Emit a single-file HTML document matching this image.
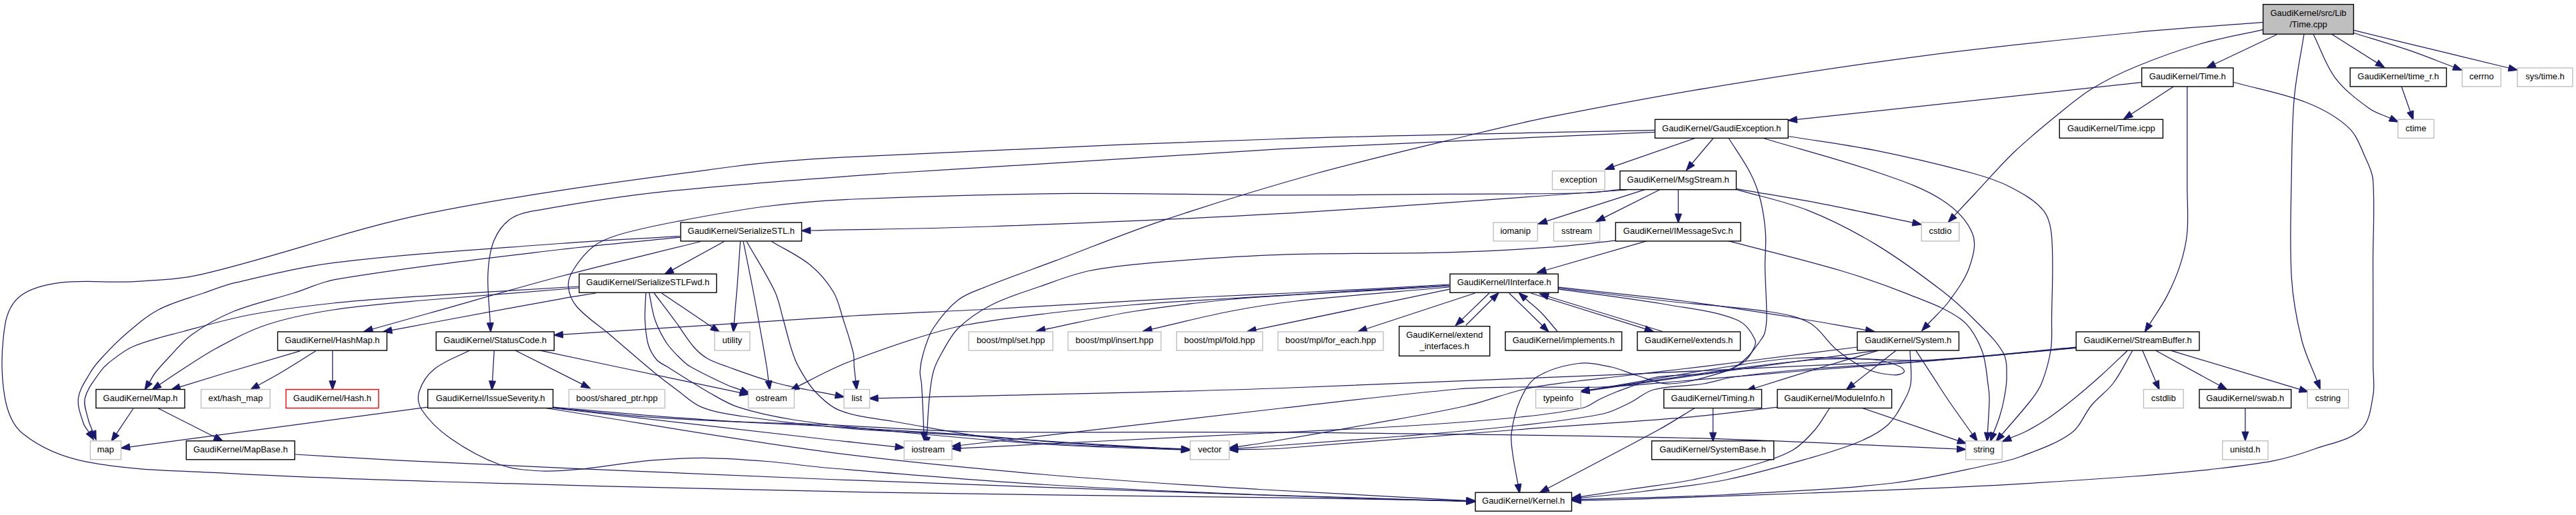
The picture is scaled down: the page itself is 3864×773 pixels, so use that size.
<!DOCTYPE html>
<html><head><meta charset="utf-8"><title>Time.cpp include graph</title>
<style>html,body{margin:0;padding:0;background:#fff;overflow:hidden}svg{display:block}
text{font-family:"Liberation Sans",sans-serif;font-size:13px;fill:#000;text-anchor:middle}
.e path{fill:none;stroke:#191970;stroke-width:1.25}.e polygon{fill:#191970;stroke:#191970;stroke-width:1}
.k{fill:#fff;stroke:#000;stroke-width:1.4}.g{fill:#fff;stroke:#bfbfbf;stroke-width:1.4}.r{fill:#fff;stroke:#ff0000;stroke-width:1.4}.root{fill:#bfbfbf;stroke:#000;stroke-width:1.4}
</style></head><body>
<svg width="3864" height="773" viewBox="0 0 3864 773">
<rect x="0" y="0" width="3864" height="773" fill="#fff"/>
<g class="e">
<path d="M3415.0,52.0 L3322.1,96.0"/><polygon points="3309.4,102.0 3319.9,91.5 3324.2,100.5"/>
<path d="M3395.4,33.3 C3330.3,38.5 3265.0,42.6 3200.0,49.0 C3095.9,59.2 2991.9,69.8 2888.2,83.3 C2778.5,97.6 2669.2,114.4 2560.0,132.3 C2481.1,145.2 2402.4,160.2 2324.0,175.7 C2285.9,183.3 2248.1,192.3 2210.3,201.5 C2131.9,220.4 2053.3,238.5 1975.5,260.0 C1898.0,281.6 1820.9,305.2 1744.6,330.8 C1690.0,349.0 1636.8,371.2 1583.0,391.4 C1548.6,404.3 1514.0,416.3 1480.0,430.0 C1465.5,435.9 1449.8,440.4 1437.5,450.0 C1422.6,461.6 1410.4,476.7 1400.0,492.5 C1392.6,503.8 1388.9,517.1 1385.0,530.0 C1382.2,539.1 1380.5,548.5 1380.0,558.0 C1379.7,564.3 1382.0,570.4 1382.4,576.7 C1383.9,600.5 1384.7,624.3 1385.8,648.2"/><polygon points="1386.5,662.1 1380.8,648.4 1390.8,647.9"/>
<path d="M3395.4,44.4 C3363.6,51.6 3331.3,56.9 3300.0,66.0 C3267.4,75.5 3235.4,87.0 3204.0,100.0 C3181.6,109.2 3159.7,119.9 3139.0,132.5 C3121.2,143.3 3105.2,156.9 3089.0,170.0 C3066.0,188.7 3043.0,207.5 3021.5,228.0 C3000.9,247.6 2982.5,269.3 2963.0,290.0 C2952.5,301.2 2942.0,312.4 2931.5,323.6"/><polygon points="2922.0,333.9 2927.9,320.2 2935.2,327.1"/>
<path d="M3456.0,51.5 C3451.1,83.1 3444.2,114.5 3441.4,146.4 C3438.0,184.2 3437.9,222.2 3437.3,260.0 C3436.5,312.2 3434.2,364.5 3437.3,416.6 C3439.2,448.1 3444.9,479.4 3452.5,510.0 C3457.7,531.3 3467.8,551.1 3475.5,571.6"/><polygon points="3480.4,584.7 3470.8,573.3 3480.1,569.8"/>
<path d="M3470.1,51.5 C3481.1,73.4 3488.3,97.6 3503.0,117.1 C3516.6,135.3 3535.2,149.2 3553.5,162.6 C3562.9,169.5 3574.7,172.5 3585.3,177.4"/><polygon points="3598.0,183.3 3583.2,181.9 3587.4,172.9"/>
<path d="M3497.9,51.5 L3565.4,94.1"/><polygon points="3577.2,101.6 3562.7,98.4 3568.0,89.9"/>
<path d="M3530.7,49.5 C3558.5,58.2 3586.5,66.3 3614.1,75.7 C3636.4,83.4 3658.2,92.3 3680.3,100.5"/><polygon points="3693.4,105.4 3678.6,105.2 3682.1,95.9"/>
<path d="M3530.7,45.4 C3572.0,55.5 3613.2,65.7 3654.5,75.7 C3690.7,84.6 3727.0,93.3 3763.2,102.0"/><polygon points="3776.8,105.3 3762.0,106.9 3764.4,97.2"/>
<path d="M3212.6,123.7 L2695.4,179.4"/><polygon points="2681.5,180.9 2694.9,174.4 2696.0,184.4"/>
<path d="M3260.6,129.8 L3196.9,171.3"/><polygon points="3185.1,178.9 3194.1,167.1 3199.6,175.5"/>
<path d="M3280.8,129.8 C3280.8,153.8 3280.8,177.9 3280.8,202.0 C3280.8,228.1 3280.8,254.2 3280.8,280.3 C3280.8,303.0 3282.8,325.8 3280.8,348.5 C3279.4,364.7 3275.6,380.9 3270.7,396.4 C3265.5,413.0 3258.4,429.0 3250.5,444.4 C3242.9,459.1 3233.1,472.5 3224.4,486.5"/><polygon points="3217.0,498.4 3220.2,483.9 3228.7,489.2"/>
<path d="M3350.5,123.5 C3387.0,133.7 3424.8,140.0 3460.0,154.0 C3482.8,163.0 3505.3,175.0 3523.2,191.9 C3535.8,203.8 3541.1,221.6 3548.4,237.3 C3553.3,247.8 3558.7,258.7 3559.5,270.2 C3562.4,310.5 3559.5,351.0 3559.5,391.4 C3559.5,420.9 3559.6,450.5 3559.6,480.0 C3559.6,502.8 3559.6,525.5 3559.6,548.3 C3559.6,563.5 3562.4,578.9 3559.6,593.8 C3556.3,611.6 3554.7,632.7 3541.4,645.0 C3523.3,661.7 3496.3,665.2 3473.1,673.5 C3452.6,680.8 3431.8,687.5 3410.5,691.7 C3378.6,697.9 3346.1,701.2 3313.8,704.8 C3275.9,708.9 3238.0,712.2 3200.0,715.0 C3128.0,720.2 3056.1,725.0 2984.0,728.8 C2894.4,733.4 2804.7,736.5 2715.0,740.0 C2631.7,743.2 2548.3,746.0 2465.0,748.8 C2433.8,749.8 2402.5,750.4 2371.3,751.2"/><polygon points="2357.3,751.5 2371.2,746.2 2371.4,756.2"/>
<path d="M3602.4,130.2 L3615.4,167.5"/><polygon points="3620.0,180.7 3610.7,169.2 3620.1,165.9"/>
<path d="M2543.6,207.0 L2420.4,249.8"/><polygon points="2407.2,254.4 2418.7,245.1 2422.0,254.5"/>
<path d="M2570.4,207.0 L2538.2,245.2"/><polygon points="2529.2,255.9 2534.4,242.0 2542.0,248.4"/>
<path d="M2482.5,198.4 C2295.0,206.9 2107.4,213.6 1920.0,223.7 C1725.1,234.2 1530.3,246.6 1335.5,260.0 C1221.4,268.0 1107.2,275.9 993.5,287.9 C930.8,294.5 868.6,304.6 806.6,315.6 C792.7,318.1 777.8,320.2 766.2,328.3 C754.9,336.1 746.2,348.3 741.0,361.1 C734.5,376.9 732.7,394.5 731.9,411.6 C730.8,435.9 734.2,460.3 735.3,484.6"/><polygon points="736.0,498.6 730.3,484.9 740.3,484.4"/>
<path d="M2482.5,195.4 C2295.0,199.8 2107.5,202.3 1920.0,208.5 C1706.6,215.6 1493.2,224.5 1280.0,235.3 C1219.7,238.4 1159.3,242.0 1099.5,250.0 C945.9,270.5 791.9,289.9 640.0,320.7 C526.0,343.8 416.3,385.2 303.0,411.6 C270.0,419.3 235.8,420.7 202.0,422.7 C165.0,424.9 127.6,419.6 90.9,424.2 C69.8,426.9 47.3,431.5 30.3,444.4 C17.4,454.2 10.1,471.3 7.6,487.3 C2.1,522.4 1.1,558.8 6.8,593.8 C10.2,614.6 17.7,637.5 34.1,650.7 C61.6,672.8 96.3,686.6 130.9,693.4 C200.0,706.8 271.1,706.5 341.4,710.4 C448.8,716.4 556.4,719.8 664.0,723.0 C877.3,729.3 1090.7,734.8 1304.0,738.9 C1517.3,743.0 1730.7,744.4 1944.0,747.4 C2029.4,748.7 2114.8,750.3 2200.2,751.8"/><polygon points="2214.2,752.0 2200.1,756.8 2200.3,746.8"/>
<path d="M2643.3,207.0 C2702.2,224.7 2761.9,239.9 2820.0,260.0 C2852.1,271.1 2885.1,281.9 2913.5,300.5 C2932.4,312.9 2950.5,330.0 2958.9,351.0 C2965.2,366.7 2959.4,385.5 2953.9,401.5 C2947.4,420.0 2935.1,436.1 2923.6,452.0 C2914.4,464.6 2902.4,475.0 2891.8,486.5"/><polygon points="2882.4,496.8 2888.2,483.1 2895.5,489.9"/>
<path d="M2682.2,204.5 C2725.6,211.6 2769.3,217.1 2812.5,225.7 C2861.6,235.6 2910.5,247.0 2958.9,260.0 C2977.9,265.2 2997.0,271.1 3014.5,280.3 C3032.7,289.8 3051.8,299.9 3064.9,315.6 C3074.0,326.5 3076.5,342.0 3077.6,356.0 C3080.7,397.2 3077.8,438.7 3077.5,480.0 C3077.4,495.0 3078.6,510.2 3076.2,525.0 C3073.6,542.1 3068.8,558.9 3062.5,575.0 C3058.9,584.1 3053.0,592.2 3047.0,600.0 C3033.0,618.0 3017.5,634.8 3002.8,652.2"/><polygon points="2993.7,662.9 2999.0,649.0 3006.6,655.5"/>
<path d="M2592.8,207.0 C2603.8,224.7 2616.2,241.6 2625.6,260.0 C2632.2,272.9 2637.3,286.5 2640.8,300.5 C2644.9,317.0 2647.2,334.0 2648.4,351.0 C2649.5,367.3 2647.3,383.7 2647.5,400.0 C2647.8,425.0 2650.1,450.0 2650.0,475.0 C2650.0,483.4 2649.2,491.9 2647.0,500.0 C2645.8,504.5 2642.7,508.2 2640.0,512.0 C2634.0,520.3 2628.3,528.9 2621.0,536.0 C2614.2,542.7 2606.8,549.4 2598.0,553.0 C2586.0,557.9 2572.8,559.3 2560.0,561.0 C2547.4,562.7 2534.6,562.1 2522.0,563.0 C2508.0,564.1 2493.8,564.1 2480.0,567.0 C2471.2,568.8 2463.4,573.8 2455.0,577.0 C2445.0,580.8 2434.9,584.0 2425.0,588.0 C2416.5,591.4 2408.2,595.1 2400.0,599.0 C2391.5,603.1 2384.2,609.9 2375.0,612.0 C2343.8,619.0 2311.8,622.8 2280.0,626.0 C2220.1,632.1 2160.1,636.2 2100.0,640.0 C2033.4,644.2 1966.7,646.7 1900.0,650.0 C1818.3,654.0 1736.7,657.9 1655.0,662.0 C1583.6,665.6 1512.2,669.2 1440.8,672.9"/><polygon points="1426.8,673.6 1440.5,667.9 1441.0,677.8"/>
<path d="M2467.9,284.3 L2320.0,331.9"/><polygon points="2306.7,336.2 2318.5,327.2 2321.5,336.7"/>
<path d="M2490.6,284.3 L2406.1,326.6"/><polygon points="2393.6,332.8 2403.9,322.1 2408.3,331.1"/>
<path d="M2517.4,284.3 L2517.4,321.0"/><polygon points="2517.4,335.0 2512.4,321.0 2522.4,321.0"/>
<path d="M2440.0,285.0 C2266.7,296.9 2093.5,310.7 1920.0,320.7 C1774.8,329.0 1629.4,334.8 1484.0,340.0 C1394.6,343.2 1305.2,344.0 1215.8,346.0"/><polygon points="1201.8,346.3 1215.7,341.0 1215.9,351.0"/>
<path d="M2431.0,284.3 C2414.0,286.0 2397.1,289.0 2380.0,289.5 C2310.8,291.4 2241.7,290.9 2172.5,291.4 C2088.3,292.0 2004.2,293.1 1920.0,292.9 C1816.1,292.7 1712.1,289.4 1608.2,290.4 C1498.8,291.4 1389.3,294.3 1280.0,299.0 C1235.7,300.9 1191.5,304.4 1147.5,310.0 C1103.1,315.6 1059.0,324.0 1015.0,332.5 C985.6,338.2 956.2,343.9 927.5,352.5 C914.3,356.5 900.9,361.5 890.0,370.0 C877.9,379.4 868.1,392.0 860.0,405.0 C855.4,412.4 851.7,421.3 852.5,430.0 C853.5,440.8 857.9,451.8 865.0,460.0 C879.3,476.6 898.4,488.3 915.0,502.5 C936.7,521.0 958.0,539.9 980.0,558.0 C991.4,567.4 1003.1,576.3 1015.0,585.0 C1027.3,594.0 1038.3,605.6 1052.5,611.2 C1072.3,619.2 1093.9,621.9 1115.0,625.0 C1164.8,632.3 1214.9,638.1 1265.0,642.5 C1319.9,647.3 1375.0,648.9 1430.0,652.5 C1496.7,656.8 1563.3,662.0 1630.0,666.2 C1677.4,669.3 1724.8,671.6 1772.2,674.3"/><polygon points="1786.2,675.1 1771.9,679.3 1772.5,669.3"/>
<path d="M2604.4,283.3 C2648.5,291.1 2692.8,298.1 2736.7,306.6 C2781.0,315.1 2825.0,325.0 2869.1,334.2"/><polygon points="2882.8,337.1 2868.1,339.1 2870.1,329.3"/>
<path d="M2604.4,284.3 C2640.1,294.8 2676.9,302.0 2711.5,315.6 C2746.5,329.4 2780.2,346.8 2812.5,366.1 C2847.7,387.3 2880.9,411.8 2913.5,436.8 C2931.4,450.6 2948.1,466.1 2964.0,482.3 C2978.7,497.2 2995.0,511.5 3005.0,530.0 C3011.0,541.1 3009.9,554.9 3010.0,567.5 C3010.1,578.4 3007.7,589.3 3005.8,600.0 C3004.2,608.5 3002.0,616.8 2999.5,625.0 C2996.9,633.5 2993.3,641.7 2990.2,650.0"/><polygon points="2985.3,663.1 2985.5,648.3 2994.9,651.7"/>
<path d="M2470.4,361.6 L2318.6,405.5"/><polygon points="2305.1,409.4 2317.2,400.7 2320.0,410.3"/>
<path d="M2590.3,361.1 C2647.5,376.2 2705.2,389.7 2762.0,406.5 C2796.2,416.7 2829.9,428.4 2863.0,441.9 C2890.2,453.0 2919.1,462.2 2942.5,480.0 C2956.9,490.9 2965.8,508.3 2972.5,525.0 C2979.4,542.3 2979.7,561.6 2982.5,580.0 C2983.5,586.6 2984.1,593.3 2984.0,600.0 C2983.7,616.4 2982.3,632.8 2981.4,649.2"/><polygon points="2980.7,663.2 2976.4,649.0 2986.4,649.5"/>
<path d="M2423.4,361.1 C2390.3,364.5 2357.2,368.8 2324.0,371.2 C2273.5,374.7 2223.0,377.4 2172.5,378.8 C2088.3,381.1 2004.1,379.4 1920.0,382.3 C1858.1,384.4 1796.2,388.7 1734.5,393.9 C1700.6,396.8 1666.7,399.7 1633.5,406.5 C1608.3,411.7 1584.3,421.5 1560.0,430.0 C1535.6,438.5 1510.5,445.8 1487.5,457.5 C1469.4,466.7 1452.1,478.4 1437.5,492.5 C1426.7,502.9 1420.0,517.0 1412.5,530.0 C1407.4,538.9 1402.6,548.1 1400.0,558.0 C1396.3,571.7 1395.1,585.9 1393.8,600.0 C1391.9,618.6 1391.4,637.3 1390.3,656.0"/><polygon points="1389.4,669.9 1385.3,655.7 1395.3,656.3"/>
<path d="M1020.5,354.5 C960.3,358.2 900.1,360.9 840.0,365.5 C728.2,374.0 616.2,380.5 504.9,393.9 C453.8,400.1 403.6,412.6 353.5,424.2 C336.9,428.0 321.0,434.4 305.0,440.0 C282.4,448.0 258.7,453.7 237.5,465.0 C219.1,474.8 203.3,488.9 187.5,502.5 C174.1,514.0 161.9,526.9 150.0,540.0 C144.4,546.2 139.1,552.7 135.0,560.0 C128.2,572.0 119.3,583.8 117.5,597.5 C115.8,610.1 121.2,622.8 125.0,635.0 C126.6,640.1 130.5,644.1 133.3,648.6"/><polygon points="140.6,660.5 129.1,651.2 137.6,646.0"/>
<path d="M1020.5,356.2 C960.3,362.3 900.0,367.2 840.0,374.5 C728.2,388.1 616.1,401.0 504.9,419.2 C482.5,422.8 461.7,433.2 440.0,440.0 C410.1,449.3 379.0,455.6 350.0,467.5 C327.9,476.6 306.8,488.5 287.5,502.5 C273.2,512.9 262.2,527.2 250.0,540.0 C243.9,546.4 237.9,553.0 232.5,560.0 C229.3,564.2 227.0,569.1 224.2,573.6"/><polygon points="216.9,585.5 219.9,571.0 228.4,576.2"/>
<path d="M1051.2,362.5 C980.8,380.0 910.2,396.5 840.0,415.0 C774.4,432.3 709.3,451.7 644.0,470.0 C615.5,478.0 587.0,486.0 558.6,494.0"/><polygon points="545.1,497.8 557.2,489.2 559.9,498.8"/>
<path d="M1086.2,362.5 L1008.7,405.1"/><polygon points="996.4,411.8 1006.3,400.7 1011.1,409.5"/>
<path d="M1110.5,362.5 C1108.9,385.0 1107.5,407.5 1105.8,430.0 C1104.3,448.4 1102.6,466.8 1101.1,485.2"/><polygon points="1099.9,499.2 1096.1,484.8 1106.1,485.7"/>
<path d="M1115.0,362.5 C1120.0,387.7 1125.2,412.8 1130.0,438.0 C1133.5,456.1 1136.8,474.3 1140.0,492.5 C1143.4,511.7 1146.9,530.8 1150.0,550.0 C1151.2,557.2 1151.9,564.5 1152.8,571.8"/><polygon points="1154.7,585.7 1147.9,572.5 1157.8,571.2"/>
<path d="M1120.0,362.5 C1134.2,387.7 1150.3,411.8 1162.5,438.0 C1168.7,451.2 1171.0,466.0 1175.0,480.0 C1179.3,495.0 1182.7,510.2 1187.5,525.0 C1190.2,533.5 1193.1,542.2 1197.5,550.0 C1204.8,563.1 1212.2,576.6 1222.5,587.5 C1233.3,599.0 1245.3,610.6 1260.0,616.2 C1285.4,626.0 1313.2,627.9 1340.0,632.5 C1403.2,643.3 1466.2,656.4 1530.0,662.5 C1610.5,670.2 1691.5,670.1 1772.2,673.9"/><polygon points="1786.2,674.6 1772.0,678.9 1772.4,668.9"/>
<path d="M1157.5,362.5 C1176.7,374.2 1197.6,383.3 1215.0,397.5 C1228.8,408.8 1240.8,422.7 1250.0,438.0 C1257.7,450.7 1260.4,465.9 1265.0,480.0 C1270.4,496.5 1276.1,513.1 1280.0,530.0 C1281.5,536.5 1280.7,543.3 1281.2,550.0 C1281.9,557.3 1282.8,564.5 1283.6,571.8"/><polygon points="1285.1,585.7 1278.6,572.3 1288.6,571.2"/>
<path d="M868.2,430.0 C793.5,434.6 718.7,438.7 644.0,443.8 C596.0,447.0 547.9,449.9 500.0,455.0 C458.2,459.5 416.3,464.7 375.0,472.5 C341.2,478.9 308.2,488.5 275.0,497.5 C249.8,504.3 224.0,509.8 200.0,520.0 C186.2,525.8 174.3,535.8 162.5,545.0 C157.2,549.2 152.5,554.4 148.8,560.0 C140.8,572.0 130.7,583.5 127.5,597.5 C125.0,608.2 130.0,619.3 132.5,630.0 C133.9,636.1 137.0,641.7 139.2,647.5"/><polygon points="144.2,660.6 134.5,649.3 143.9,645.8"/>
<path d="M868.2,432.0 C793.5,438.0 718.7,443.3 644.0,450.0 C595.9,454.3 547.7,457.7 500.0,465.0 C466.2,470.2 432.5,476.8 400.0,487.5 C373.8,496.1 349.3,509.4 325.0,522.5 C304.2,533.7 284.9,547.3 265.0,560.0 C256.3,565.6 247.9,571.6 239.4,577.3"/><polygon points="227.8,585.2 236.6,573.2 242.2,581.5"/>
<path d="M893.8,440.0 C875.8,442.9 857.9,445.5 840.0,448.8 C774.6,460.5 709.3,472.9 644.0,485.0 C625.2,488.5 606.4,492.1 587.6,495.6"/><polygon points="573.8,498.2 586.7,490.7 588.5,500.5"/>
<path d="M968.8,440.0 C968.3,453.3 966.9,466.7 967.5,480.0 C968.1,492.6 969.0,505.4 972.5,517.5 C974.9,525.7 979.5,533.5 985.0,540.0 C988.9,544.6 994.9,546.8 1000.0,550.0 C1021.6,563.5 1042.9,577.4 1065.0,590.0 C1078.8,597.8 1092.4,606.4 1107.5,611.2 C1134.4,619.8 1162.1,625.7 1190.0,630.0 C1239.7,637.8 1289.9,642.7 1340.0,647.5 C1419.9,655.2 1499.9,662.4 1580.0,667.5 C1644.0,671.6 1708.1,672.5 1772.2,675.0"/><polygon points="1786.2,675.5 1772.0,680.0 1772.4,670.0"/>
<path d="M973.8,440.0 C976.7,453.3 978.0,467.1 982.5,480.0 C986.8,492.3 992.9,504.1 1000.0,515.0 C1005.5,523.4 1012.9,530.4 1020.0,537.5 C1024.6,542.1 1029.3,546.8 1035.0,550.0 C1052.8,560.2 1071.4,568.9 1090.0,577.5 C1097.0,580.7 1104.5,582.9 1111.7,585.6"/><polygon points="1124.9,590.4 1110.0,590.2 1113.5,580.9"/>
<path d="M981.2,440.0 C992.5,455.0 1003.9,469.9 1015.0,485.0 C1023.5,496.6 1030.7,509.1 1040.0,520.0 C1045.8,526.7 1052.4,532.9 1060.0,537.5 C1069.3,543.1 1079.8,546.4 1090.0,550.0 C1114.8,558.9 1139.5,568.3 1165.0,575.0 C1194.0,582.7 1223.8,587.1 1253.2,593.2"/><polygon points="1266.9,596.0 1252.2,598.1 1254.2,588.3"/>
<path d="M992.5,440.0 L1068.1,490.9"/><polygon points="1079.7,498.7 1065.3,495.0 1070.9,486.7"/>
<path d="M450.0,526.8 C412.5,537.8 375.0,548.8 337.5,560.0 C314.9,566.8 292.3,573.8 269.7,580.8"/><polygon points="256.4,584.9 268.3,576.0 271.2,585.5"/>
<path d="M473.8,526.8 C455.8,537.8 438.1,549.2 420.0,560.0 C409.3,566.4 398.3,572.2 387.4,578.2"/><polygon points="375.2,585.1 385.0,573.9 389.9,582.6"/>
<path d="M498.8,526.8 L498.8,571.7"/><polygon points="498.8,585.7 493.8,571.7 503.8,571.7"/>
<path d="M200.0,613.0 L174.6,651.1"/><polygon points="166.8,662.7 170.4,648.3 178.8,653.9"/>
<path d="M237.5,613.0 L322.3,656.0"/><polygon points="334.8,662.3 320.1,660.4 324.6,651.5"/>
<path d="M442.5,682.0 C495.0,685.1 547.5,688.6 600.0,691.2 C691.6,695.9 783.3,699.7 875.0,703.8 C998.0,709.1 1121.0,714.7 1244.0,719.5 C1458.6,727.8 1673.3,735.6 1888.0,743.0 C1991.9,746.6 2095.8,749.4 2199.7,752.6"/><polygon points="2213.7,753.0 2199.6,757.6 2199.9,747.6"/>
<path d="M741.3,525.5 L738.6,571.9"/><polygon points="737.8,585.9 733.6,571.6 743.6,572.2"/>
<path d="M772.0,525.5 L873.2,576.6"/><polygon points="885.7,583.0 871.0,581.1 875.5,572.2"/>
<path d="M807.9,525.5 C846.1,533.7 884.3,541.9 922.5,550.0 C985.0,563.2 1047.5,576.2 1110.0,589.4"/><polygon points="1123.7,592.2 1108.9,594.3 1111.0,584.5"/>
<path d="M705.4,525.5 C687.4,535.0 667.2,541.1 651.4,554.0 C640.8,562.6 632.7,575.0 628.6,588.1 C625.9,596.8 627.5,607.5 632.5,615.0 C643.6,631.7 658.6,646.0 675.0,657.5 C698.2,673.8 723.3,687.9 750.0,697.5 C769.8,704.6 791.5,705.9 812.5,707.0 C833.3,708.0 854.2,705.8 875.0,703.8 C908.4,700.5 941.5,694.2 975.0,691.2 C1004.1,688.7 1033.3,687.3 1062.5,687.5 C1091.7,687.7 1120.9,690.1 1150.0,692.5 C1181.4,695.1 1212.6,699.9 1244.0,702.5 C1352.3,711.5 1460.6,720.8 1569.0,727.5 C1675.2,734.1 1781.6,738.4 1888.0,742.5 C1991.9,746.6 2095.8,748.9 2199.7,752.1"/><polygon points="2213.7,752.5 2199.6,757.1 2199.9,747.1"/>
<path d="M641.2,611.2 L194.7,670.8"/><polygon points="180.8,672.7 194.0,665.9 195.3,675.8"/>
<path d="M830.0,611.2 C878.3,615.4 926.6,619.9 975.0,623.8 C1016.6,627.0 1058.3,630.4 1100.0,632.5 C1148.0,635.0 1196.0,635.4 1244.0,637.5 C1314.4,640.6 1384.6,646.8 1455.0,648.0 C1599.3,650.5 1743.7,647.5 1888.0,648.8 C2102.7,650.6 2317.4,652.3 2532.0,657.5 C2666.6,660.7 2801.0,668.5 2935.5,674.0"/><polygon points="2949.4,674.5 2935.3,679.0 2935.7,669.0"/>
<path d="M828.8,611.8 C877.5,616.6 926.1,622.9 975.0,626.2 C1064.6,632.3 1154.4,635.1 1244.0,640.0 C1306.0,643.4 1368.0,646.9 1430.0,651.2 C1496.7,655.9 1563.3,662.5 1630.0,667.0 C1677.4,670.2 1724.8,672.0 1772.2,674.6"/><polygon points="1786.2,675.3 1772.0,679.6 1772.5,669.6"/>
<path d="M825.0,612.0 C964.7,628.0 1104.3,644.1 1244.0,660.0 C1256.0,661.4 1268.0,662.5 1280.0,663.8 C1301.0,666.0 1322.0,668.3 1343.0,670.6"/><polygon points="1356.9,672.1 1342.5,675.6 1343.6,665.6"/>
<path d="M815.0,612.0 C958.0,634.2 1100.5,659.6 1244.0,678.8 C1352.0,693.1 1460.5,703.1 1569.0,712.5 C1675.2,721.7 1781.6,728.0 1888.0,734.5 C1991.9,740.9 2095.8,745.7 2199.7,751.3"/><polygon points="2213.7,752.1 2199.4,756.3 2200.0,746.3"/>
<path d="M2174.0,427.0 C2097.3,431.2 2020.7,435.6 1944.0,439.5 C1896.0,441.9 1848.0,443.4 1800.0,446.0 C1694.6,451.6 1589.4,458.3 1484.0,464.0 C1416.0,467.7 1348.0,469.9 1280.0,474.0 C1134.7,482.7 989.5,492.8 844.3,502.2"/><polygon points="830.3,503.1 844.0,497.2 844.6,507.2"/>
<path d="M2174.0,428.0 C2097.3,432.7 2020.7,437.4 1944.0,442.0 C1910.7,444.0 1877.3,445.9 1844.0,448.0 C1796.0,451.0 1747.9,453.6 1700.0,457.5 C1658.3,460.9 1616.6,465.0 1575.0,470.0 C1533.2,475.0 1491.4,479.7 1450.0,487.5 C1424.6,492.3 1399.7,499.7 1375.0,507.5 C1341.3,518.1 1308.1,530.1 1275.0,542.5 C1263.0,547.0 1251.5,552.5 1240.0,558.0 C1225.6,564.9 1211.6,572.5 1197.4,579.7"/><polygon points="1184.9,586.0 1195.1,575.2 1199.7,584.1"/>
<path d="M2174.0,429.5 C2097.3,433.8 2020.6,437.9 1944.0,442.5 C1910.6,444.5 1877.2,446.1 1844.0,449.5 C1795.9,454.4 1747.7,459.7 1700.0,467.5 C1655.5,474.7 1611.7,485.5 1567.5,494.4"/><polygon points="1553.8,497.2 1566.5,489.5 1568.5,499.3"/>
<path d="M2174.0,431.0 C2097.3,438.0 2020.5,443.5 1944.0,452.0 C1910.5,455.7 1877.1,461.1 1844.0,467.5 C1804.9,475.1 1766.3,485.3 1727.5,494.1"/><polygon points="1713.8,497.3 1726.4,489.3 1728.6,499.0"/>
<path d="M2174.2,434.2 L1883.8,494.9"/><polygon points="1870.1,497.7 1882.8,490.0 1884.8,499.8"/>
<path d="M2212.5,440.0 L2049.7,493.5"/><polygon points="2036.4,497.9 2048.1,488.8 2051.2,498.3"/>
<path d="M2233.8,440.0 L2193.0,479.4"/><polygon points="2182.9,489.1 2189.5,475.8 2196.4,483.0"/>
<path d="M2198.8,488.2 L2238.4,449.0"/><polygon points="2248.4,439.2 2241.9,452.6 2234.9,445.5"/>
<path d="M2263.8,440.0 L2313.4,488.5"/><polygon points="2323.4,498.3 2309.9,492.1 2316.8,485.0"/>
<path d="M2336.2,497.5 C2328.3,488.3 2321.0,478.7 2312.5,470.0 C2305.0,462.3 2296.4,455.7 2288.3,448.5"/><polygon points="2277.9,439.2 2291.6,444.8 2285.0,452.2"/>
<path d="M2296.2,440.0 L2467.8,493.7"/><polygon points="2481.1,497.9 2466.3,498.4 2469.3,488.9"/>
<path d="M2493.8,497.5 L2322.2,445.0"/><polygon points="2308.9,440.9 2323.7,440.2 2320.8,449.8"/>
<path d="M2337.5,431.2 C2401.7,438.3 2466.0,444.3 2530.0,452.5 C2580.2,458.9 2630.1,467.0 2680.0,475.0 C2719.6,481.3 2759.1,488.6 2798.6,495.3"/><polygon points="2812.4,497.7 2797.8,500.3 2799.5,490.4"/>
<path d="M2337.5,432.5 C2393.3,439.2 2449.1,446.3 2505.0,452.5 C2555.0,458.1 2605.3,460.3 2655.0,468.0 C2675.5,471.2 2696.9,474.7 2715.0,485.0 C2731.4,494.3 2740.4,513.1 2755.0,525.0 C2768.7,536.1 2783.4,546.4 2799.5,553.8 C2811.2,559.1 2824.2,561.4 2837.0,562.5 C2843.3,563.1 2851.2,563.3 2855.8,558.8 C2858.3,556.2 2852.8,551.4 2849.5,550.0 C2837.6,544.9 2824.9,541.0 2812.0,540.0 C2773.1,536.9 2734.0,535.7 2695.0,537.5 C2661.4,539.0 2628.2,544.9 2595.0,550.0 C2524.5,560.9 2454.2,573.6 2383.9,585.4"/><polygon points="2370.1,587.7 2383.0,580.5 2384.7,590.3"/>
<path d="M2337.5,433.8 C2393.3,441.8 2449.4,448.4 2505.0,458.0 C2538.6,463.8 2573.4,467.1 2605.0,480.0 C2617.6,485.1 2626.8,497.7 2632.5,510.0 C2635.2,515.9 2630.5,523.0 2627.5,528.8 C2624.5,534.5 2620.4,540.1 2615.0,543.8 C2605.5,550.3 2594.8,555.5 2583.8,558.8 C2558.0,566.3 2531.9,575.0 2505.0,576.0 C2487.8,576.6 2471.5,568.2 2455.0,563.5 C2442.3,559.9 2430.4,553.7 2417.5,551.0 C2401.1,547.6 2384.1,543.3 2367.5,545.5 C2345.8,548.4 2323.5,554.3 2305.0,566.0 C2292.9,573.7 2285.9,587.9 2280.0,601.0 C2273.0,616.6 2269.3,633.7 2267.1,650.7 C2265.7,661.2 2267.9,672.0 2269.2,682.5 C2271.2,697.4 2274.4,712.1 2277.0,726.9"/><polygon points="2279.5,740.7 2272.1,727.8 2282.0,726.0"/>
<path d="M2786.0,521.0 C2730.7,528.0 2675.3,535.1 2620.0,542.0 C2587.3,546.1 2554.7,550.1 2522.0,554.0 C2493.7,557.4 2465.3,560.7 2437.0,564.0 C2408.0,567.4 2378.9,570.1 2350.0,574.0 C2328.9,576.8 2307.7,579.2 2287.0,584.0 C2257.6,590.9 2229.4,602.4 2200.0,609.0 C2150.4,620.2 2100.1,628.3 2050.0,637.5 C2000.1,646.7 1950.0,655.4 1900.0,664.0 C1885.6,666.5 1871.1,668.4 1856.7,670.6"/><polygon points="1842.8,672.7 1855.9,665.6 1857.4,675.5"/>
<path d="M2815.0,526.2 C2741.7,536.2 2668.3,546.1 2595.0,556.2 C2524.6,566.0 2454.3,576.2 2383.9,586.2"/><polygon points="2370.1,588.2 2383.2,581.3 2384.6,591.2"/>
<path d="M2817.5,526.2 C2793.3,533.3 2769.1,540.2 2745.0,547.5 C2707.3,558.9 2669.8,570.8 2632.2,582.5"/><polygon points="2618.9,586.6 2630.7,577.7 2633.7,587.2"/>
<path d="M2843.8,526.2 L2780.0,576.6"/><polygon points="2769.1,585.2 2776.9,572.6 2783.1,580.5"/>
<path d="M2865.0,526.2 C2865.4,542.5 2868.0,558.8 2866.2,575.0 C2865.3,583.8 2861.3,592.2 2857.0,600.0 C2849.8,613.2 2843.0,627.3 2832.0,637.5 C2820.1,648.6 2805.0,656.1 2790.0,662.5 C2765.8,672.9 2740.3,680.2 2715.0,687.5 C2673.6,699.4 2632.2,711.6 2590.0,720.0 C2548.7,728.3 2506.7,732.3 2465.0,737.5 C2433.8,741.4 2402.5,744.1 2371.2,747.4"/><polygon points="2357.3,748.9 2370.7,742.5 2371.8,752.4"/>
<path d="M2873.8,526.2 C2882.5,539.6 2891.3,552.9 2900.0,566.2 C2907.4,577.5 2914.4,588.9 2922.0,600.0 C2933.9,617.4 2946.2,634.4 2958.4,651.5"/><polygon points="2966.4,663.0 2954.3,654.4 2962.5,648.7"/>
<path d="M2569.5,612.5 L2569.5,649.2"/><polygon points="2569.5,663.2 2564.5,649.2 2574.5,649.2"/>
<path d="M2542.0,612.5 C2524.0,623.3 2506.4,634.9 2488.0,645.0 C2433.0,675.0 2377.2,703.5 2321.8,732.8"/><polygon points="2309.4,739.3 2319.5,728.4 2324.2,737.2"/>
<path d="M2666.2,611.2 C2621.5,616.2 2576.9,622.4 2532.0,626.2 C2446.4,633.6 2360.6,638.4 2275.0,645.0 C2158.0,654.0 2041.1,664.7 1924.0,673.0 C1901.6,674.6 1879.0,674.1 1856.5,674.7"/><polygon points="1842.6,675.0 1856.4,669.7 1856.7,679.7"/>
<path d="M2792.0,612.0 L2936.9,661.4"/><polygon points="2950.1,665.9 2935.3,666.1 2938.5,656.6"/>
<path d="M2744.5,612.5 C2737.2,623.3 2731.1,635.1 2722.5,645.0 C2712.8,656.1 2702.6,667.4 2690.0,675.0 C2674.6,684.3 2657.2,689.8 2640.0,695.0 C2607.1,704.9 2573.7,713.3 2540.0,720.0 C2506.9,726.6 2473.3,730.0 2440.0,735.0 C2417.0,738.5 2394.1,742.0 2371.2,745.6"/><polygon points="2357.3,747.7 2370.4,740.6 2371.9,750.5"/>
<path d="M3113.8,521.2 C3042.5,527.5 2971.4,536.3 2900.0,540.0 C2574.8,556.7 2249.4,570.6 1924.0,582.5 C1721.8,589.9 1519.4,592.6 1317.0,597.7"/><polygon points="1303.1,598.0 1316.9,592.7 1317.2,602.7"/>
<path d="M3113.8,521.5 C3042.5,527.8 2971.5,537.1 2900.0,540.5 C2840.1,543.3 2779.8,534.8 2720.0,540.0 C2607.4,549.8 2496.0,570.2 2383.9,585.3"/><polygon points="2370.1,587.2 2383.3,580.3 2384.6,590.2"/>
<path d="M3114.0,522.0 C3042.7,528.3 2971.4,535.3 2900.0,541.0 C2833.4,546.3 2766.6,549.5 2700.0,555.0 C2666.6,557.8 2633.2,561.2 2600.0,566.0 C2584.8,568.2 2570.2,573.6 2555.0,576.0 C2530.1,579.9 2504.4,578.7 2480.0,585.0 C2467.4,588.2 2457.7,598.4 2446.0,604.0 C2432.7,610.4 2419.5,618.0 2405.0,621.0 C2363.8,629.6 2321.8,633.8 2280.0,638.5 C2220.1,645.2 2160.0,650.0 2100.0,655.0 C2033.4,660.5 1966.7,665.0 1900.0,670.0 C1885.6,671.1 1871.2,672.1 1856.8,673.1"/><polygon points="1842.8,674.1 1856.4,668.1 1857.1,678.1"/>
<path d="M3114.0,522.5 C3042.7,528.8 2971.4,535.6 2900.0,541.5 C2833.4,547.1 2766.6,551.6 2700.0,557.0 C2640.6,561.8 2581.4,567.3 2522.0,572.0 C2481.4,575.3 2440.8,579.5 2400.0,581.0 C2358.4,582.5 2316.7,580.4 2275.0,581.0 C2245.7,581.4 2216.2,581.4 2187.0,584.0 C2099.2,591.9 2011.6,602.6 1924.0,612.5 C1762.9,630.8 1601.8,649.9 1440.7,668.5"/><polygon points="1426.8,670.1 1440.1,663.6 1441.3,673.5"/>
<path d="M3191.2,526.2 C3177.5,539.2 3164.0,552.4 3150.0,565.0 C3136.6,577.0 3123.0,588.7 3109.0,600.0 C3097.0,609.7 3084.8,619.3 3072.0,628.0 C3061.7,635.0 3051.0,641.2 3040.0,647.0 C3032.2,651.1 3023.8,654.0 3015.8,657.4"/><polygon points="3002.9,663.0 3013.8,652.8 3017.7,662.0"/>
<path d="M3198.8,526.2 C3189.2,542.5 3181.3,559.9 3170.0,575.0 C3160.7,587.4 3147.4,596.2 3137.5,608.0 C3126.4,621.2 3121.0,639.8 3107.0,650.0 C3084.7,666.3 3057.7,675.1 3032.0,685.0 C3016.6,691.0 3000.2,694.1 2984.0,697.5 C2936.2,707.5 2888.6,719.5 2840.0,725.0 C2757.0,734.5 2673.4,738.1 2590.0,742.5 C2517.2,746.3 2444.2,747.2 2371.3,749.6"/><polygon points="2357.3,750.0 2371.1,744.6 2371.5,754.6"/>
<path d="M3213.8,526.2 L3233.7,572.7"/><polygon points="3239.2,585.6 3229.1,574.7 3238.3,570.8"/>
<path d="M3233.8,526.2 L3328.8,578.3"/><polygon points="3341.1,585.1 3326.4,582.7 3331.2,574.0"/>
<path d="M3256.2,526.2 L3449.5,584.3"/><polygon points="3462.9,588.3 3448.1,589.1 3450.9,579.5"/>
<path d="M3367.9,612.6 L3367.9,648.1"/><polygon points="3367.9,662.1 3362.9,648.1 3372.9,648.1"/>
</g>
<g>
<rect class="root" x="3394.6" y="6.6" width="135.8" height="44.6"/><text x="3462.5" y="23.9">GaudiKernel/src/Lib</text><text x="3462.5" y="40.8">/Time.cpp</text>
<rect class="k" x="3212.6" y="101.9" width="137.3" height="28.0"/><text x="3281.2" y="119.1">GaudiKernel/Time.h</text>
<rect class="k" x="3525.2" y="101.9" width="144.4" height="28.0"/><text x="3597.4" y="119.1">GaudiKernel/time_r.h</text>
<rect class="g" x="3693.3" y="101.9" width="58.1" height="28.0"/><text x="3722.4" y="119.1">cerrno</text>
<rect class="g" x="3776.1" y="101.9" width="82.9" height="28.0"/><text x="3817.6" y="119.1">sys/time.h</text>
<rect class="g" x="3596.9" y="179.3" width="54.0" height="28.0"/><text x="3623.9" y="196.5">ctime</text>
<rect class="k" x="3089.2" y="179.3" width="155.2" height="28.0"/><text x="3166.8" y="196.5">GaudiKernel/Time.icpp</text>
<rect class="k" x="2482.5" y="179.3" width="199.7" height="28.0"/><text x="2582.3" y="196.5">GaudiKernel/GaudiException.h</text>
<rect class="g" x="2328.5" y="256.6" width="78.8" height="28.0"/><text x="2367.9" y="273.8">exception</text>
<rect class="k" x="2430.0" y="256.6" width="174.4" height="28.0"/><text x="2517.2" y="273.8">GaudiKernel/MsgStream.h</text>
<rect class="g" x="2240.1" y="333.9" width="66.2" height="28.0"/><text x="2273.2" y="351.1">iomanip</text>
<rect class="g" x="2330.5" y="333.9" width="69.2" height="28.0"/><text x="2365.1" y="351.1">sstream</text>
<rect class="k" x="2423.4" y="333.9" width="187.6" height="28.0"/><text x="2517.2" y="351.1">GaudiKernel/IMessageSvc.h</text>
<rect class="g" x="2882.2" y="333.9" width="56.5" height="28.0"/><text x="2910.4" y="351.1">cstdio</text>
<rect class="k" x="1021.0" y="333.9" width="181.5" height="28.0"/><text x="1111.8" y="351.1">GaudiKernel/SerializeSTL.h</text>
<rect class="k" x="868.7" y="411.2" width="206.1" height="28.0"/><text x="971.8" y="428.4">GaudiKernel/SerializeSTLFwd.h</text>
<rect class="k" x="2175.0" y="411.2" width="162.3" height="28.0"/><text x="2256.2" y="428.4">GaudiKernel/IInterface.h</text>
<rect class="k" x="416.5" y="498.0" width="163.9" height="28.0"/><text x="498.4" y="515.2">GaudiKernel/HashMap.h</text>
<rect class="k" x="654.2" y="498.0" width="177.0" height="28.0"/><text x="742.7" y="515.2">GaudiKernel/StatusCode.h</text>
<rect class="g" x="1071.9" y="498.0" width="52.9" height="28.0"/><text x="1098.3" y="515.2">utility</text>
<rect class="g" x="1453.0" y="498.0" width="126.3" height="28.0"/><text x="1516.2" y="515.2">boost/mpl/set.hpp</text>
<rect class="g" x="1602.0" y="498.0" width="139.5" height="28.0"/><text x="1671.8" y="515.2">boost/mpl/insert.hpp</text>
<rect class="g" x="1764.8" y="498.0" width="129.1" height="28.0"/><text x="1829.3" y="515.2">boost/mpl/fold.hpp</text>
<rect class="g" x="1916.9" y="498.0" width="158.1" height="28.0"/><text x="1996.0" y="515.2">boost/mpl/for_each.hpp</text>
<rect class="k" x="2098.7" y="489.7" width="136.0" height="44.6"/><text x="2166.7" y="507.0">GaudiKernel/extend</text><text x="2166.7" y="523.9">_interfaces.h</text>
<rect class="k" x="2258.0" y="498.0" width="174.7" height="28.0"/><text x="2345.3" y="515.2">GaudiKernel/implements.h</text>
<rect class="k" x="2456.0" y="498.0" width="154.5" height="28.0"/><text x="2533.2" y="515.2">GaudiKernel/extends.h</text>
<rect class="k" x="2785.9" y="498.0" width="152.5" height="28.0"/><text x="2862.2" y="515.2">GaudiKernel/System.h</text>
<rect class="k" x="3114.2" y="498.0" width="184.8" height="28.0"/><text x="3206.6" y="515.2">GaudiKernel/StreamBuffer.h</text>
<rect class="k" x="144.0" y="584.5" width="133.1" height="28.0"/><text x="210.6" y="601.7">GaudiKernel/Map.h</text>
<rect class="g" x="301.6" y="584.5" width="103.5" height="28.0"/><text x="353.4" y="601.7">ext/hash_map</text>
<rect class="r" x="429.0" y="584.5" width="138.9" height="28.0"/><text x="498.4" y="601.7">GaudiKernel/Hash.h</text>
<rect class="k" x="641.7" y="584.5" width="187.8" height="28.0"/><text x="735.6" y="601.7">GaudiKernel/IssueSeverity.h</text>
<rect class="g" x="853.4" y="584.5" width="143.9" height="28.0"/><text x="925.3" y="601.7">boost/shared_ptr.hpp</text>
<rect class="g" x="1122.5" y="584.5" width="68.9" height="28.0"/><text x="1157.0" y="601.7">ostream</text>
<rect class="g" x="1265.9" y="584.5" width="38.6" height="28.0"/><text x="1285.2" y="601.7">list</text>
<rect class="g" x="2303.6" y="584.5" width="67.6" height="28.0"/><text x="2337.4" y="601.7">typeinfo</text>
<rect class="k" x="2495.8" y="584.5" width="146.7" height="28.0"/><text x="2569.2" y="601.7">GaudiKernel/Timing.h</text>
<rect class="k" x="2666.0" y="584.5" width="171.6" height="28.0"/><text x="2751.8" y="601.7">GaudiKernel/ModuleInfo.h</text>
<rect class="g" x="3215.4" y="584.5" width="59.7" height="28.0"/><text x="3245.2" y="601.7">cstdlib</text>
<rect class="k" x="3299.0" y="584.5" width="137.7" height="28.0"/><text x="3367.8" y="601.7">GaudiKernel/swab.h</text>
<rect class="g" x="3461.2" y="584.5" width="61.4" height="28.0"/><text x="3491.9" y="601.7">cstring</text>
<rect class="g" x="135.4" y="661.8" width="46.1" height="28.0"/><text x="158.4" y="679.0">map</text>
<rect class="k" x="279.4" y="661.8" width="162.7" height="28.0"/><text x="360.8" y="679.0">GaudiKernel/MapBase.h</text>
<rect class="g" x="1356.2" y="661.8" width="71.7" height="28.0"/><text x="1392.1" y="679.0">iostream</text>
<rect class="g" x="1785.3" y="661.8" width="58.6" height="28.0"/><text x="1814.6" y="679.0">vector</text>
<rect class="k" x="2477.6" y="661.8" width="183.1" height="28.0"/><text x="2569.1" y="679.0">GaudiKernel/SystemBase.h</text>
<rect class="g" x="2948.6" y="661.8" width="54.6" height="28.0"/><text x="2975.9" y="679.0">string</text>
<rect class="g" x="3333.7" y="661.8" width="68.3" height="28.0"/><text x="3367.8" y="679.0">unistd.h</text>
<rect class="k" x="2213.0" y="739.2" width="144.5" height="28.0"/><text x="2285.2" y="756.4">GaudiKernel/Kernel.h</text>
</g>
</svg>
</body></html>
